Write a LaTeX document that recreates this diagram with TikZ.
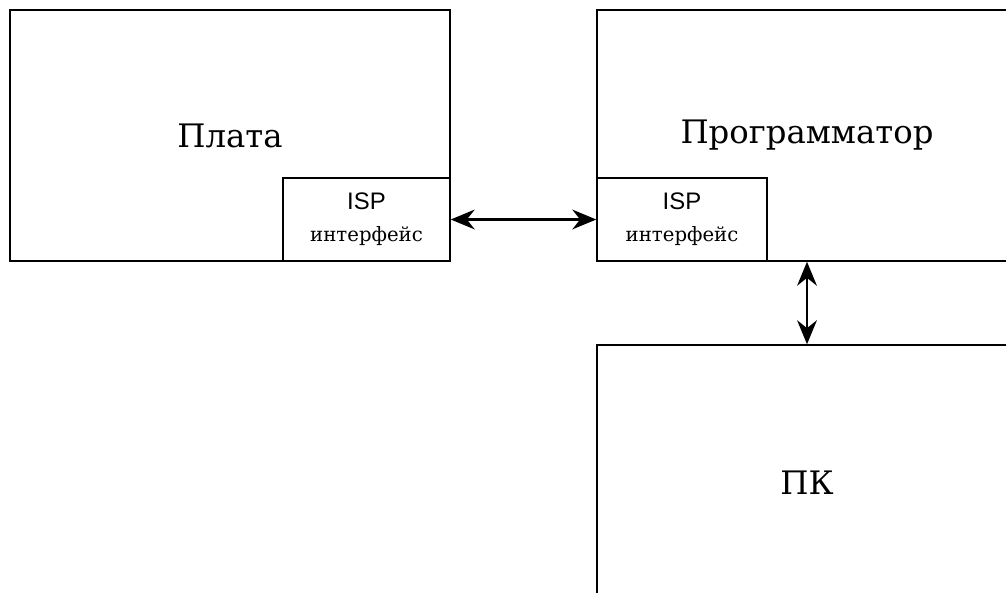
\documentclass[tikz,border=0pt]{standalone}
\usepackage{fontspec}
\setmainfont{DejaVu Serif}
\newfontfamily\ispsans{Liberation Sans}
\usetikzlibrary{arrows.meta,positioning}

\begin{document}
\begin{tikzpicture}[
  x=0.025cm, y=-0.025cm,
  blk/.style={draw, line width=1pt, fill=white, inner sep=0pt, font=\fontsize{23}{27}\selectfont},
  isp/.style={draw, line width=1pt, fill=white, inner sep=0pt, align=center, font=\fontsize{14}{23}\selectfont, minimum height=2.075cm},
  link/.style={line width=2pt, {Stealth[length=17pt,width=14pt]}-{Stealth[length=17pt,width=14pt]}}
]
\useasboundingbox (0,0) rectangle (1006,592);
\clip (0,0) rectangle (1006,592);

% Boards
\node[blk, minimum width=11cm, minimum height=6.275cm] (plata) at (230,135.5) {Плата};
\node[blk, minimum width=10.5cm, minimum height=6.275cm] (prog) at (807,135.5) {Программатор};
\node[blk, minimum width=10.5cm, minimum height=6.9cm] (pc) at (807,483) {ПК};

% ISP connectors
\node[isp, minimum width=4.175cm] (isp1) at (366.5,219.5) {{\ispsans\fontsize{17}{23}\selectfont ISP}\\интерфейс};
\node[isp, minimum width=4.25cm] (isp2) at (682,219.5) {{\ispsans\fontsize{17}{23}\selectfont ISP}\\интерфейс};

% Links
\draw[link] (isp1.east) -- (isp2.west);
\draw[link] (prog.south) -- (pc.north);

\end{tikzpicture}
\end{document}
